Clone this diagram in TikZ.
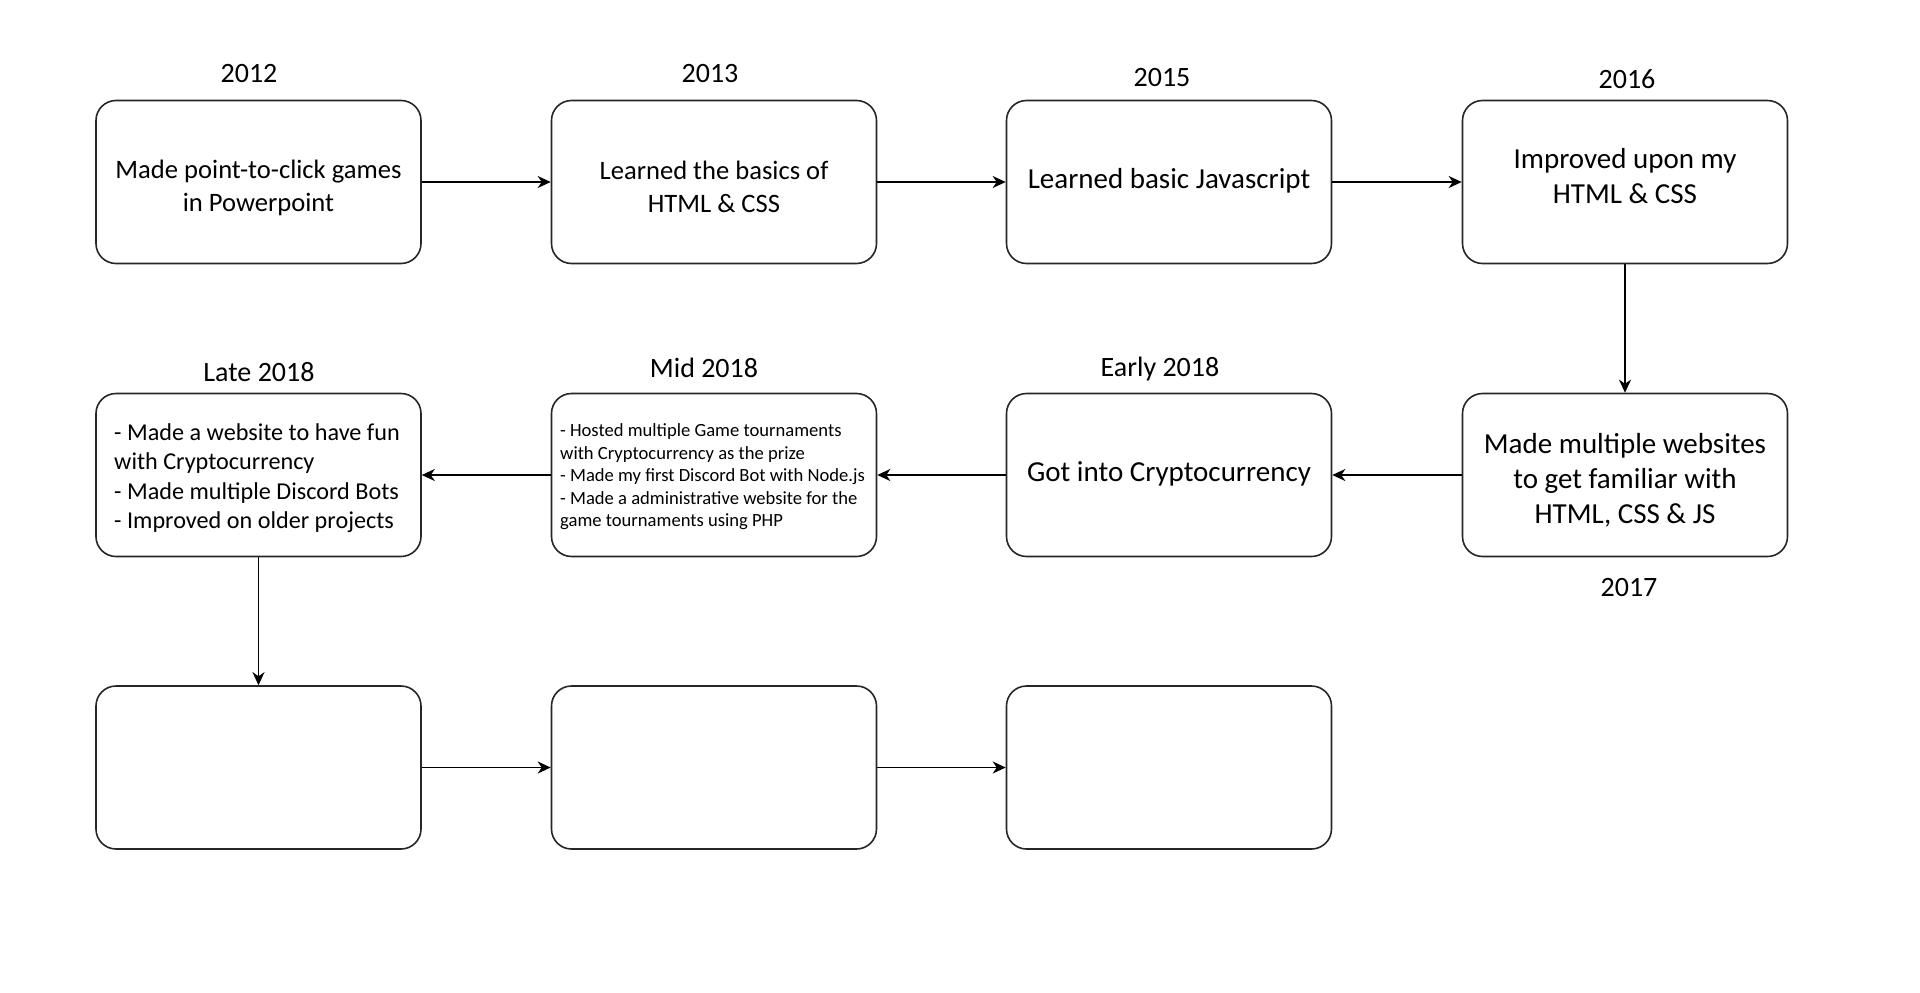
\documentclass[tikz,border=0pt]{standalone}
\usepackage{fontspec}
\setmainfont{Carlito}
\usetikzlibrary{arrows.meta}
\begin{document}
\begin{tikzpicture}[x=1pt,y=-1pt,
  box/.style={draw=black!85, line width=1.6pt, rounded corners=20pt, minimum width=325pt, minimum height=163pt, inner sep=0pt},
  yr/.style={font=\fontsize{28}{34}\selectfont, inner sep=0pt},
  txtA/.style={font=\fontsize{26.6}{32.5}\selectfont, align=center, inner sep=0pt},
  txtB/.style={font=\fontsize{29}{35}\selectfont, align=center, inner sep=0pt},
  txtL/.style={font=\fontsize{24.2}{29.5}\selectfont, align=left, anchor=west, inner sep=0pt},
  txtS/.style={font=\fontsize{18.6}{22.5}\selectfont, align=left, anchor=west, inner sep=0pt},
  arr/.style={draw=black, line width=1.7pt, -{Stealth[length=13pt,width=12pt,inset=4pt]}}]
\useasboundingbox (0,0) rectangle (1920,993);
\fill[white] (0,0) rectangle (1920,993);

% row 1
\node[box] (b1) at (258.5,182) {};
\node[box] (b2) at (714,182) {};
\node[box] (b3) at (1169,182) {};
\node[box] (b4) at (1625,182) {};
% row 2
\node[box] (b5) at (1625,475) {};
\node[box] (b6) at (1169,475) {};
\node[box] (b7) at (714,475) {};
\node[box] (b8) at (258.5,475) {};
% row 3
\node[box] (b9) at (258.5,767.5) {};
\node[box] (b10) at (714,767.5) {};
\node[box] (b11) at (1169,767.5) {};

% texts
\node[txtA] (t1) at (258.5,188) {Made point-to-click games\\in Powerpoint};
\node[txtA] (t2) at (714,187) {Learned the basics of\\HTML \& CSS};
\node[txtB] (t3) at (1169,180.5) {Learned basic Javascript};
\node[txtB] (t4) at (1625,176) {Improved upon my\\HTML \& CSS};
\node[txtB] (t5) at (1625,480) {Made multiple websites\\to get familiar with\\HTML, CSS \& JS};
\node[txtB] (t6) at (1169,474) {Got into Cryptocurrency};
\node[txtS] (t7) at (560,477) {- Hosted multiple Game tournaments\\with Cryptocurrency as the prize\\- Made my first Discord Bot with Node.js\\- Made a administrative website for the\\game tournaments using PHP};
\node[txtL] (t8) at (114,478) {- Made a website to have fun\\with Cryptocurrency\\- Made multiple Discord Bots\\- Improved on older projects};

% year labels
\node[yr] (y1) at (249,74) {2012};
\node[yr] (y2) at (710,74) {2013};
\node[yr] (y3) at (1162,78) {2015};
\node[yr] (y4) at (1627,79) {2016};
\node[yr] (y5) at (1629,588) {2017};
\node[yr] (y6) at (1160,369) {Early 2018};
\node[yr] (y7) at (704,368) {Mid 2018};
\node[yr] (y8) at (259,372) {Late 2018};

% connectors
\draw[arr] (b1) -- (b2);
\draw[arr] (b2) -- (b3);
\draw[arr] (b3) -- (b4);
\draw[arr] (b4) -- (b5);
\draw[arr] (b5) -- (b6);
\draw[arr] (b6) -- (b7);
\draw[arr] (b7) -- (b8);
\draw[arr] (b8) -- (b9);
\draw[arr] (b9) -- (b10);
\draw[arr] (b10) -- (b11);
\end{tikzpicture}
\end{document}
